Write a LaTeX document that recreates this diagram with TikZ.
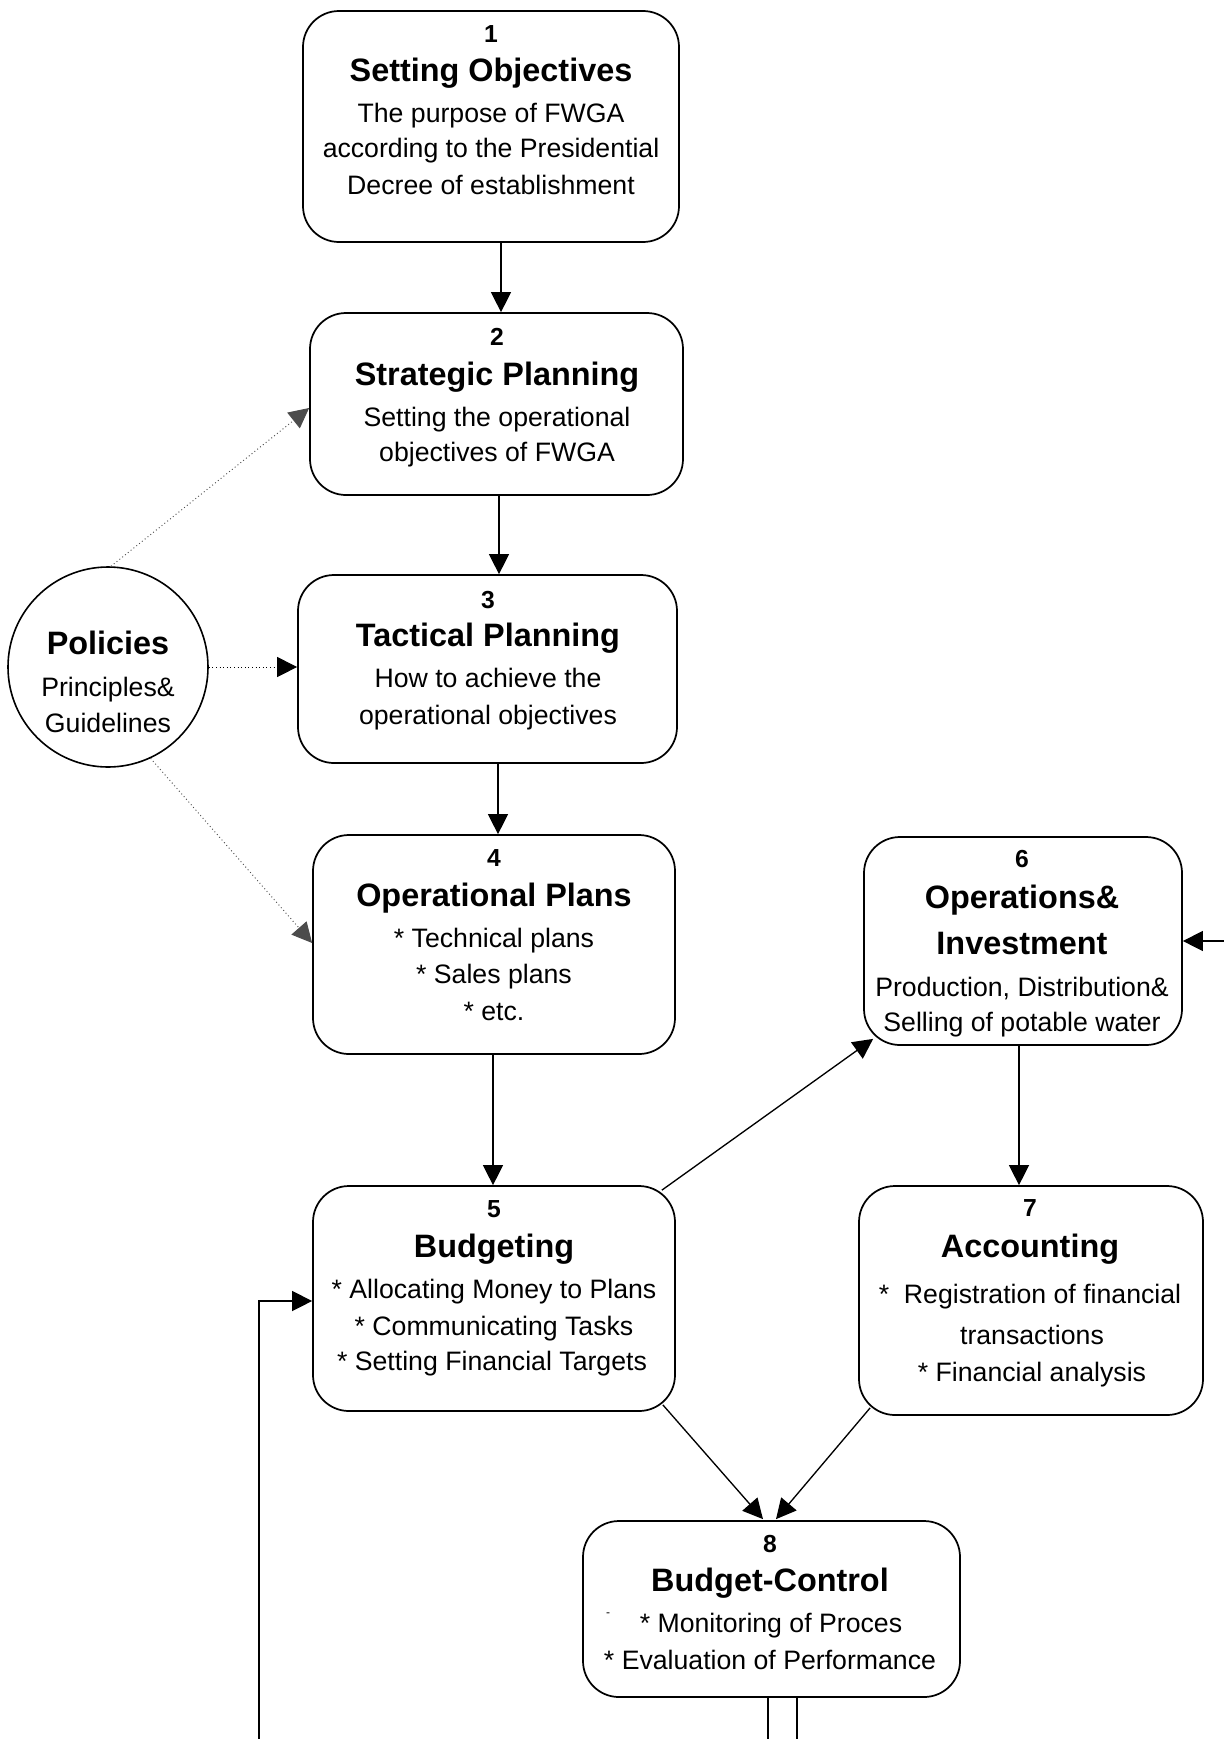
\documentclass[tikz,border=0pt]{standalone}
\usepackage{fontspec}
\setmainfont{Liberation Sans}
\usetikzlibrary{arrows.meta,calc}

\tikzset{
  stage/.style={draw, line width=1.3pt, rounded corners=27pt, inner sep=0pt},
  numtxt/.style={anchor=base, inner sep=0pt, font=\bfseries\fontsize{18.5}{22}\selectfont},
  ttltxt/.style={anchor=base, inner sep=0pt, font=\bfseries\fontsize{24.3}{29}\selectfont},
  bodytxt/.style={anchor=base, inner sep=0pt, font=\fontsize{20}{24}\selectfont},
  flow/.style={line width=1pt, -{Triangle[width=15pt,length=15pt]}},
  influence/.style={dotted, line width=0.7pt, -{Triangle[width=15pt,length=15pt]}},
}

\begin{document}
\begin{tikzpicture}[x=0.75pt, y=-0.75pt]
  \useasboundingbox (0,0) rectangle (1224,1739);

  % stage boxes
  \node[stage, minimum width=282pt,    minimum height=173.25pt] (b1) at (491,126.5) {};
  \node[stage, minimum width=279.75pt, minimum height=136.5pt]  (b2) at (496.5,404) {};
  \node[stage, minimum width=284.25pt, minimum height=141pt]    (b3) at (487.5,669) {};
  \node[stage, minimum width=271.5pt,  minimum height=164.25pt] (b4) at (494,944.5) {};
  \node[stage, minimum width=271.5pt,  minimum height=168.75pt] (b5) at (494,1298.5) {};
  \node[stage, minimum width=238.5pt,  minimum height=156pt]    (b6) at (1023,941) {};
  \node[stage, minimum width=258pt,    minimum height=171.75pt] (b7) at (1031,1300.5) {};
  \node[stage, minimum width=282.75pt, minimum height=132pt]    (b8) at (771.5,1609) {};
  \node[draw, circle, line width=1.2pt, minimum size=150pt, inner sep=0pt] (pol) at (108,667) {};

  % 1 Setting Objectives
  \node[numtxt]  (n1)  at (491,42)  {1};
  \node[ttltxt]  (h1)  at (491,81)  {Setting Objectives};
  \node[bodytxt] (t1a) at (491,122) {The purpose of FWGA};
  \node[bodytxt] (t1b) at (491,157) {according to the Presidential};
  \node[bodytxt] (t1c) at (491,194) {Decree of establishment};

  % 2 Strategic Planning
  \node[numtxt]  (n2)  at (497,345) {2};
  \node[ttltxt]  (h2)  at (497,385) {Strategic Planning};
  \node[bodytxt] (t2a) at (497,426) {Setting the operational};
  \node[bodytxt] (t2b) at (497,461) {objectives of FWGA};

  % 3 Tactical Planning
  \node[numtxt]  (n3)  at (488,608) {3};
  \node[ttltxt]  (h3)  at (488,646) {Tactical Planning};
  \node[bodytxt] (t3a) at (488,687) {How to achieve the};
  \node[bodytxt] (t3b) at (488,724) {operational objectives};

  % 4 Operational Plans
  \node[numtxt]  (n4)  at (494,866)  {4};
  \node[ttltxt]  (h4)  at (494,906)  {Operational Plans};
  \node[bodytxt] (t4a) at (494,947)  {* Technical plans};
  \node[bodytxt] (t4b) at (494,983)  {* Sales plans};
  \node[bodytxt] (t4c) at (494,1020) {* etc.};

  % 5 Budgeting
  \node[numtxt]  (n5)  at (494,1217) {5};
  \node[ttltxt]  (h5)  at (494,1257) {Budgeting};
  \node[bodytxt] (t5a) at (494,1298) {* Allocating Money to Plans};
  \node[bodytxt] (t5b) at (494,1335) {* Communicating Tasks};
  \node[bodytxt] (t5c) at (492,1370) {* Setting Financial Targets};

  % 6 Operations & Investment
  \node[numtxt]  (n6)  at (1022,867)  {6};
  \node[ttltxt]  (h6a) at (1022,908)  {Operations\&};
  \node[ttltxt]  (h6b) at (1022,954)  {Investment};
  \node[bodytxt] (t6a) at (1022,996)  {Production, Distribution\&};
  \node[bodytxt] (t6b) at (1022,1031) {Selling of potable water};

  % 7 Accounting
  \node[numtxt]  (n7)  at (1030,1216) {7};
  \node[ttltxt]  (h7)  at (1030,1257) {Accounting};
  \node[bodytxt] (t7a) at (1030,1303) {*\ \ Registration of financial};
  \node[bodytxt] (t7b) at (1032,1344) {transactions};
  \node[bodytxt] (t7c) at (1032,1381) {* Financial analysis};

  % 8 Budget-Control
  \node[numtxt]  (n8)  at (770,1552) {8};
  \node[ttltxt]  (h8)  at (770,1591) {Budget-Control};
  \node[bodytxt] (t8a) at (771,1632) {* Monitoring of Proces};
  \node[bodytxt] (t8b) at (770,1669) {* Evaluation of Performance};
  \node[inner sep=0pt, font=\fontsize{9}{9}\selectfont] (m8) at (608,1615) {-};

  % Policies
  \node[ttltxt]  (hp)  at (108,654) {Policies};
  \node[bodytxt] (tpa) at (108,696) {Principles\&};
  \node[bodytxt] (tpb) at (108,732) {Guidelines};

  % main flow
  \draw[flow] ($(b1.south)+(10,0)$)  -- ($(b2.north)+(4.5,0)$);
  \draw[flow] ($(b2.south)+(2.5,0)$) -- ($(b3.north)+(11.5,0)$);
  \draw[flow] ($(b3.south)+(10.5,0)$) -- ($(b4.north)+(4,0)$);
  \draw[flow] ($(b4.south)+(-1,0)$)  -- ($(b5.north)+(-1,0)$);
  \draw[flow] ($(b5.north east)+(-14,5)$) -- ($(b6.south west)+(10,-7)$);
  \draw[flow] ($(b6.south)+(-4,0)$)  -- ($(b7.north)+(-12,0)$);
  \draw[flow] ($(b5.south east)+(-13,-7)$) -- ($(b8.north)+(-8.5,-1)$);
  \draw[flow] ($(b7.south west)+(12,-8)$)  -- ($(b8.north)+(4.5,-1)$);

  % feedback and outside links
  \coordinate (rin) at (1224,941);
  \coordinate (lfb) at (259,1739);
  \coordinate (out1) at (768,1739);
  \coordinate (out2) at (797,1739);
  \draw[flow] (rin) -- (rin -| b6.east);
  \draw[flow] (lfb) |- ($(b5.west)+(0,2.5)$);
  \draw[line width=1pt] (out1 |- b8.south) -- (out1);
  \draw[line width=1pt] (out2 |- b8.south) -- (out2);

  % policies influence
  \draw[influence, black] (pol.east) -- (pol.east -| b3.west);
  \draw[influence, black!70] ($(pol.north)+(3,0)$) -- ($(b2.west)+(0,4)$);
  \draw[influence, black!70] (pol.-65) -- ($(b4.west)+(0,-1.5)$);
\end{tikzpicture}
\end{document}
